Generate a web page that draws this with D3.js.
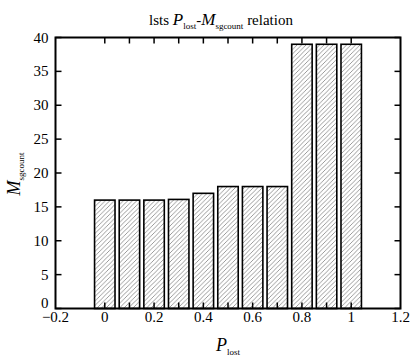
<!DOCTYPE html>
<html><head><meta charset="utf-8">
<script src="https://cdn.jsdelivr.net/npm/d3@7"></script>
<style>body{margin:0;background:#fff}svg{display:block}svg text{font-family:"Liberation Serif","Times New Roman",Times,serif !important}</style>
</head><body><svg id="c" width="413" height="357"></svg>
<script>
const categories = [0,0.1,0.2,0.3,0.4,0.5,0.6,0.7,0.8,0.9,1.0];
const values = [16,16,16,16.1,17,18,18,18,39,39,39];
const xTickLabels = [-0.2,0,0.2,0.4,0.6,0.8,1,1.2];
const yTickLabels = [0,5,10,15,20,25,30,35,40];

const svg = d3.select("#c");
const L=55.5,R=400.5,T=37.5,B=308.5;
const x = d3.scaleLinear().domain([-0.2,1.2]).range([L,R]);
const y = d3.scaleLinear().domain([0,40]).range([B,T]);

const defs = svg.append("defs");
const pat = defs.append("pattern").attr("id","hatch").attr("patternUnits","userSpaceOnUse")
  .attr("width",4.5).attr("height",4.5);
pat.append("rect").attr("width",4.5).attr("height",4.5).attr("fill","#fff");
pat.append("path").attr("d","M-1,1 l2,-2 M0,4.5 l4.5,-4.5 M3.5,5.5 l2,-2").attr("stroke","#7a7a7a").attr("stroke-width",0.75);

const bw = x(0.083)-x(0);
svg.selectAll("rect.bar").data(categories).enter().append("rect")
  .attr("x",d=>x(d)-bw/2).attr("width",bw)
  .attr("y",(d,i)=>y(values[i])).attr("height",(d,i)=>y(0)-y(values[i]))
  .attr("fill","url(#hatch)").attr("stroke","#000").attr("stroke-width",1.6);

svg.append("rect").attr("x",L).attr("y",T).attr("width",R-L).attr("height",B-T)
  .attr("fill","none").attr("stroke","#000").attr("stroke-width",2);

const tl=6;
const g = svg.append("g").attr("stroke","#000").attr("stroke-width",1.5);
categories.forEach(d=>{
  g.append("line").attr("x1",x(d)).attr("x2",x(d)).attr("y1",B).attr("y2",B-tl);
  g.append("line").attr("x1",x(d)).attr("x2",x(d)).attr("y1",T).attr("y2",T+tl);
});
yTickLabels.forEach(d=>{
  g.append("line").attr("x1",L).attr("x2",L+tl).attr("y1",y(d)).attr("y2",y(d));
  g.append("line").attr("x1",R).attr("x2",R-tl).attr("y1",y(d)).attr("y2",y(d));
});

svg.selectAll("text.xt").data(xTickLabels).enter().append("text")
  .attr("x",d=>x(d)).attr("y",B+13.5).attr("text-anchor","middle").attr("font-size",15)
  .text(d=>d<0?"\u2212"+Math.abs(d):String(d));
svg.selectAll("text.yt").data(yTickLabels).enter().append("text")
  .attr("x",L-7).attr("y",d=>y(d)+5-(d===0?6:0)).attr("text-anchor","end").attr("font-size",15)
  .text(d=>d);

const t = svg.append("text").attr("x",221).attr("y",25).attr("text-anchor","middle").attr("font-size",15);
t.append("tspan").text("lsts ");
t.append("tspan").attr("font-style","italic").attr("font-size",17).text("P");
t.append("tspan").attr("font-size",9).attr("dy",4).text("lost");
t.append("tspan").attr("dy",-4).text("-");
t.append("tspan").attr("font-style","italic").attr("font-size",17).text("M");
t.append("tspan").attr("font-size",9).attr("dy",4).text("sgcount");
t.append("tspan").attr("dy",-4).text(" relation");

const xl = svg.append("text").attr("x",228).attr("y",351).attr("text-anchor","middle");
xl.append("tspan").attr("font-style","italic").attr("font-size",18).text("P");
xl.append("tspan").attr("font-size",9).attr("dy",4).text("lost");

const yl = svg.append("text").attr("transform","translate(20,174) rotate(-90)").attr("text-anchor","middle");
yl.append("tspan").attr("font-style","italic").attr("font-size",18).text("M");
yl.append("tspan").attr("font-size",9).attr("dy",4).text("sgcount");
</script></body></html>
